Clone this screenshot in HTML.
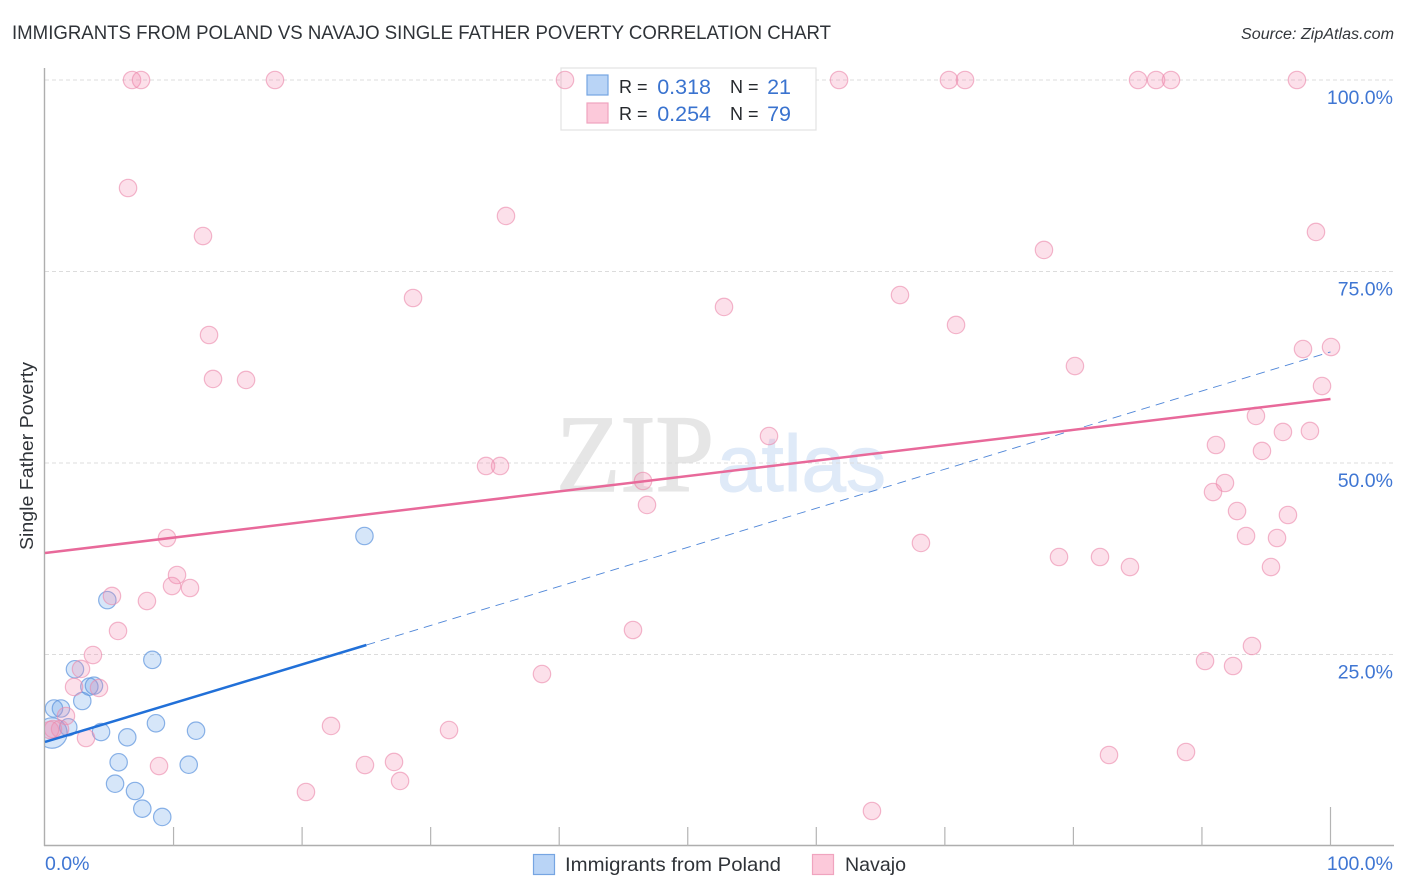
<!DOCTYPE html>
<html lang="en">
<head>
<meta charset="utf-8">
<title>Immigrants from Poland vs Navajo Single Father Poverty Correlation Chart</title>
<style>
html,body{margin:0;padding:0;background:#fff;width:1406px;height:892px;overflow:hidden}
svg{display:block}
text{font-family:"Liberation Sans",sans-serif}
</style>
</head>
<body>
<svg id="chart" xmlns="http://www.w3.org/2000/svg" width="1406" height="892" viewBox="0 0 1406 892">
  <defs>
    <clipPath id="plot-clip"><rect x="45" y="60" width="1361" height="786"/></clipPath>
  </defs>
  <text x="12" y="39" font-size="19.5" fill="#2f3338" textLength="819" lengthAdjust="spacingAndGlyphs">IMMIGRANTS FROM POLAND VS NAVAJO SINGLE FATHER POVERTY CORRELATION CHART</text>
  <text x="1241" y="39" font-size="15.5" font-style="italic" fill="#33373c" textLength="153" lengthAdjust="spacingAndGlyphs">Source: ZipAtlas.com</text>

  <g>
    <text x="556" y="491" font-size="110" fill="#e6e6e6" stroke="#e6e6e6" stroke-width="1.6" style="font-family:'Liberation Serif',serif" textLength="158" lengthAdjust="spacingAndGlyphs">ZIP</text>
    <text x="717" y="491" font-size="80" fill="#dfeaf8" stroke="#dfeaf8" stroke-width="1" textLength="169" lengthAdjust="spacingAndGlyphs">atlas</text>
  </g>

  <g id="grid"></g>
  <g id="axes"></g>
  <rect x="561" y="68" width="255" height="62" fill="#fff" stroke="#e2e2e2" stroke-width="1.2"/>
  <g id="marks-blue" clip-path="url(#plot-clip)"></g>
  <g id="marks-pink" clip-path="url(#plot-clip)"></g>
  <g id="trends"></g>
  <g id="labels"></g>

  <text transform="translate(33,456) rotate(-90)" text-anchor="middle" font-size="18" fill="#2f3338" textLength="188" lengthAdjust="spacingAndGlyphs">Single Father Poverty</text>

  <g>
    <rect x="587" y="75" width="21" height="20" fill="#b9d4f6" stroke="#76a5e2" stroke-width="1.2"/>
    <rect x="587" y="103" width="21" height="20" fill="#fcc9da" stroke="#f0a4bf" stroke-width="1.2"/>
    <text x="619" y="93" font-size="18" fill="#26292d">R =</text>
    <text x="711" y="94" font-size="21.5" fill="#3a73cf" text-anchor="end">0.318</text>
    <text x="730" y="93" font-size="18" fill="#26292d">N =</text>
    <text x="791" y="94" font-size="21.5" fill="#3a73cf" text-anchor="end">21</text>
    <text x="619" y="120" font-size="18" fill="#26292d">R =</text>
    <text x="711" y="121" font-size="21.5" fill="#3a73cf" text-anchor="end">0.254</text>
    <text x="730" y="120" font-size="18" fill="#26292d">N =</text>
    <text x="791" y="121" font-size="21.5" fill="#3a73cf" text-anchor="end">79</text>
  </g>

  <g>
    <rect x="533.5" y="854.5" width="21" height="20" fill="#b9d4f6" stroke="#76a5e2" stroke-width="1.2"/>
    <text x="565" y="871" font-size="19.5" fill="#2f3338" textLength="216" lengthAdjust="spacingAndGlyphs">Immigrants from Poland</text>
    <rect x="812.5" y="854.5" width="21" height="20" fill="#fcc9da" stroke="#f0a4bf" stroke-width="1.2"/>
    <text x="845" y="871" font-size="19.5" fill="#2f3338" textLength="61" lengthAdjust="spacingAndGlyphs">Navajo</text>
  </g>
</svg>
<script>
const yTickValues = [100, 75, 50, 25];
const yTickLabels = ["100.0%", "75.0%", "50.0%", "25.0%"];
const xTickValues = [10, 20, 30, 40, 50, 60, 70, 80, 90, 100];
const xEndLabels = ["0.0%", "100.0%"];

const polandX = [8.35, 2.33, 2.9, 3.45, 3.81, 0.7, 1.24, 4.85, 1.81, 0.54, 4.36, 6.4, 8.63, 11.75, 5.73, 11.18, 5.45, 7.0, 7.57, 9.12, 24.85];
const polandY = [24.3, 23.07, 18.93, 20.8, 20.93, 17.95, 17.95, 32.1, 15.5, 14.75, 14.88, 14.19, 16.02, 15.05, 10.93, 10.61, 8.13, 7.18, 4.87, 3.79, 40.47];
const polandWeight = [1, 1, 1, 1, 1, 1, 1, 1, 1, 1.75, 1, 1, 1, 1, 1, 1, 1, 1, 1, 1, 1];

const navajoX = [6.77, 7.47, 17.89, 40.45, 61.77, 70.32, 71.57, 85.03, 86.43, 87.59, 97.39,
  6.46, 12.29, 35.86, 28.63, 12.76, 13.07, 15.64, 52.82, 66.51, 70.87,
  77.71, 98.87, 80.12, 97.86, 100.04, 99.34, 94.2, 91.09, 96.3, 98.4,
  94.67, 56.32, 34.31, 35.4, 46.52, 46.83, 91.79, 90.86, 92.73, 96.69,
  93.43, 95.84, 68.14, 78.88, 82.07, 84.4, 95.37, 9.49, 10.27, 9.88,
  11.28, 5.21, 7.93, 5.68, 45.74, 3.73, 93.89, 90.24, 92.42, 38.66,
  2.8, 2.26, 4.2, 1.63, 22.25, 31.43, 3.19, 88.76, 82.77, 27.15,
  24.89, 8.87, 27.62, 20.3, 64.33, 0.62, 1.17, 0.39];
const navajoY = [100, 100, 100, 100, 100, 100, 100, 100, 100, 100, 100,
  85.9, 79.63, 82.25, 71.54, 66.71, 60.97, 60.84, 70.37, 71.93, 68.02,
  77.81, 80.16, 62.66, 64.88, 65.14, 60.05, 56.14, 52.35, 54.05, 54.18,
  51.57, 53.52, 49.61, 49.61, 47.65, 44.52, 47.39, 46.21, 43.73, 43.21,
  40.47, 40.21, 39.56, 37.73, 37.73, 36.42, 36.42, 40.21, 35.38, 33.94,
  33.68, 32.64, 31.98, 28.07, 28.2, 24.93, 26.11, 24.15, 23.5, 22.45,
  23.11, 20.76, 20.63, 16.97, 15.67, 15.14, 14.1, 12.27, 11.88, 10.97,
  10.57, 10.44, 8.49, 7.05, 4.57, 15.27, 15.27, 15.14];

const polandTrendX = [0, 25];
const polandTrendY = [13.58, 26.24];
const polandProjectionX = [25, 100];
const polandProjectionY = [26.24, 64.5];
const navajoTrendX = [0, 100];
const navajoTrendY = [38.25, 58.35];

const NS = 'http://www.w3.org/2000/svg';
function xScale(v) { return 45 + v * 12.855; }
function yScale(v) { return 846 - v * 7.66; }
function make(tag, attrs, parent) {
  const el = document.createElementNS(NS, tag);
  for (const k in attrs) el.setAttribute(k, attrs[k]);
  parent.appendChild(el);
  return el;
}

const grid = document.getElementById('grid');
yTickValues.forEach(function (v) {
  const line = make('line', { x1: 45, x2: 1394, y1: yScale(v), y2: yScale(v), stroke: '#dcdcdc', 'stroke-width': 1, 'stroke-dasharray': '4 3' }, grid);
  
  
});

const axes = document.getElementById('axes');
const yAxis = make('line', { x1: 44.5, x2: 44.5, y1: 68, y2: 846, stroke: '#aeaeae', 'stroke-width': 1.4 }, axes);


const xAxis = make('line', { x1: 44, x2: 1394, y1: 845.5, y2: 845.5, stroke: '#aeaeae', 'stroke-width': 1.4 }, axes);


xTickValues.forEach(function (v) {
  const tick = make('line', { x1: xScale(v), x2: xScale(v), y1: v === 100 ? 807 : 827, y2: 846, stroke: '#b4b4b4', 'stroke-width': 1.2 }, axes);
  
  
});

const blueGroup = document.getElementById('marks-blue');
polandX.forEach(function (v, i) {
  const c = make('circle', { cx: xScale(v), cy: yScale(polandY[i]), r: 8.7 * polandWeight[i], fill: '#5f9de8', 'fill-opacity': 0.26, stroke: '#5f96de', 'stroke-opacity': 0.72, 'stroke-width': 1.2 }, blueGroup);
  
  
});
const pinkGroup = document.getElementById('marks-pink');
navajoX.forEach(function (v, i) {
  const c = make('circle', { cx: xScale(v), cy: yScale(navajoY[i]), r: 8.7, fill: '#f58cb0', 'fill-opacity': 0.27, stroke: '#ec8bad', 'stroke-opacity': 0.62, 'stroke-width': 1.2 }, pinkGroup);
  
  
});

const trends = document.getElementById('trends');
const projection = make('line', { x1: xScale(polandProjectionX[0]), y1: yScale(polandProjectionY[0]), x2: xScale(polandProjectionX[1]), y2: yScale(polandProjectionY[1]), stroke: '#4f86d8', 'stroke-width': 0.9, 'stroke-dasharray': '9 6' }, trends);


const navajoLine = make('line', { x1: xScale(navajoTrendX[0]), y1: yScale(navajoTrendY[0]), x2: xScale(navajoTrendX[1]), y2: yScale(navajoTrendY[1]), stroke: '#e8699a', 'stroke-width': 2.5 }, trends);


const polandLine = make('line', { x1: xScale(polandTrendX[0]), y1: yScale(polandTrendY[0]), x2: xScale(polandTrendX[1]), y2: yScale(polandTrendY[1]), stroke: '#2170d8', 'stroke-width': 2.5 }, trends);



const labels = document.getElementById('labels');
yTickValues.forEach(function (v, i) {
  const t = make('text', { x: 1393, y: yScale(v) + 24, 'text-anchor': 'end', 'font-size': 19.5, fill: '#3f76d3' }, labels);
  t.textContent = yTickLabels[i];
  
  
});
const xStart = make('text', { x: 45, y: 870, 'font-size': 19.5, fill: '#3f76d3' }, labels);
xStart.textContent = xEndLabels[0];


const xEnd = make('text', { x: 1393, y: 870, 'text-anchor': 'end', 'font-size': 19.5, fill: '#3f76d3' }, labels);
xEnd.textContent = xEndLabels[1];


</script>
</body>
</html>
